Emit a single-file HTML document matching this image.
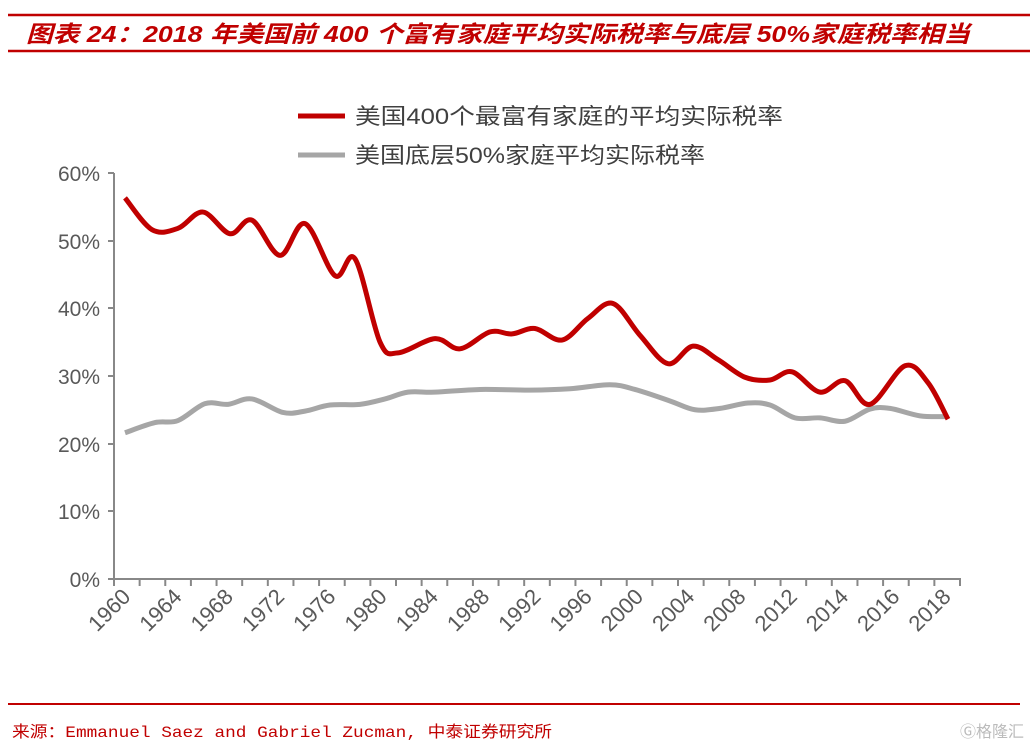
<!DOCTYPE html>
<html><head><meta charset="utf-8"><style>
body{margin:0;width:1036px;height:747px;background:#fff;overflow:hidden;font-family:"Liberation Sans","Noto Sans CJK SC",sans-serif}
</style></head><body>
<svg width="1036" height="747" xmlns="http://www.w3.org/2000/svg">
<line x1="8" y1="15" x2="1030" y2="15" stroke="#c00000" stroke-width="2.5"/>
<line x1="8" y1="51" x2="1030" y2="51" stroke="#c00000" stroke-width="2.5"/>
<text x="26" y="42" font-size="23" font-weight="bold" font-style="italic" fill="#c00000" textLength="944" lengthAdjust="spacingAndGlyphs" font-family="Liberation Sans,Noto Sans CJK SC,sans-serif">图表 24：2018 年美国前 400 个富有家庭平均实际税率与底层 50%家庭税率相当</text>
<line x1="8" y1="704" x2="1020" y2="704" stroke="#c00000" stroke-width="2"/>
<text x="12" y="737" font-size="16" fill="#c00000" textLength="540" lengthAdjust="spacingAndGlyphs" font-family="Liberation Mono,Noto Sans CJK SC,monospace">来源：Emmanuel Saez and Gabriel Zucman, 中泰证券研究所</text>
<text x="960" y="737" font-size="16" fill="#bbb">Ⓖ格隆汇</text>
<g font-size="21" fill="#595959" text-anchor="end">
<text x="100" y="181">60%</text><text x="100" y="249">50%</text><text x="100" y="316">40%</text>
<text x="100" y="384">30%</text><text x="100" y="452">20%</text><text x="100" y="519">10%</text><text x="100" y="587">0%</text>
</g>
<g stroke="#888" stroke-width="2">
<line x1="114" y1="173" x2="114" y2="580"/>
<line x1="108" y1="173" x2="114" y2="173"/><line x1="108" y1="241" x2="114" y2="241"/><line x1="108" y1="308" x2="114" y2="308"/><line x1="108" y1="376" x2="114" y2="376"/><line x1="108" y1="444" x2="114" y2="444"/><line x1="108" y1="511" x2="114" y2="511"/><line x1="108" y1="579" x2="114" y2="579"/>
<line x1="114" y1="579" x2="961" y2="579"/>
</g>
<g id="ticks" stroke="#888" stroke-width="2"></g>
<g id="labels" font-size="22" fill="#595959"></g>
<g font-size="22" fill="#404040">
<line x1="298" y1="116" x2="345" y2="116" stroke="#c00000" stroke-width="5"/>
<text x="355" y="124" textLength="428" lengthAdjust="spacingAndGlyphs">美国400个最富有家庭的平均实际税率</text>
<line x1="298" y1="155" x2="345" y2="155" stroke="#a6a6a6" stroke-width="5"/>
<text x="355" y="163" textLength="350" lengthAdjust="spacingAndGlyphs">美国底层50%家庭平均实际税率</text>
</g>
<path id="gray" fill="none" stroke="#a6a6a6" stroke-width="5" stroke-linejoin="round"/>
<path id="red" fill="none" stroke="#c00000" stroke-width="5" stroke-linejoin="round"/>
</svg>
<script>
var ns="http://www.w3.org/2000/svg";
var t=document.getElementById("ticks"),l=document.getElementById("labels");
var w=846/33;
for(var i=0;i<=33;i++){var x=114+i*w;var e=document.createElementNS(ns,"line");e.setAttribute("x1",x);e.setAttribute("x2",x);e.setAttribute("y1",579);e.setAttribute("y2",586);t.appendChild(e);}
var yrs=[];for(var y=1960;y<=2012;y+=2)yrs.push(y);for(var y=2013;y<=2018;y++)yrs.push(y);
for(var i=0;i<33;i+=2){var x=114+w/2+i*w;var e=document.createElementNS(ns,"text");e.setAttribute("text-anchor","end");e.setAttribute("transform","translate("+(x+5)+",598) rotate(-45)");e.textContent=yrs[i];l.appendChild(e);}
function Y(v){return 579-6.77*v}
var red=[[125,56.3],[152,51.6],[178,51.8],[203,54.2],[230,51],[252,53],[280,47.8],[305,52.5],[335,44.8],[355,47.3],[380,35],[398,33.4],[435,35.5],[460,34],[490,36.5],[512,36.2],[535,37],[562,35.3],[588,38.5],[613,40.7],[640,36],[668,31.8],[693,34.4],[718,32.4],[745,29.8],[770,29.4],[792,30.6],[820,27.6],[845,29.3],[870,25.8],[905,31.5],[928,29],[948,23.6]];
var gray=[[125,21.6],[155,23.1],[178,23.4],[205,25.9],[228,25.8],[252,26.6],[283,24.6],[305,24.8],[330,25.7],[360,25.8],[385,26.6],[408,27.6],[435,27.6],[480,28],[530,27.9],[570,28.1],[610,28.7],[635,28],[670,26.3],[695,25],[720,25.2],[748,26],[770,25.7],[795,23.8],[820,23.8],[845,23.3],[870,25.1],[890,25.2],[920,24.1],[948,24]];
function path(d){var p=d.map(function(a){return [a[0],Y(a[1])]});var s="M"+p[0][0]+","+p[0][1];
for(var i=0;i<p.length-1;i++){var p0=p[i-1]||p[i],p1=p[i],p2=p[i+1],p3=p[i+2]||p2;
var c1=[p1[0]+(p2[0]-p0[0])/6,p1[1]+(p2[1]-p0[1])/6],c2=[p2[0]-(p3[0]-p1[0])/6,p2[1]-(p3[1]-p1[1])/6];
s+="C"+c1+" "+c2+" "+p2;}return s;}
document.getElementById("red").setAttribute("d",path(red));
document.getElementById("gray").setAttribute("d",path(gray));
</script>
</body></html>
